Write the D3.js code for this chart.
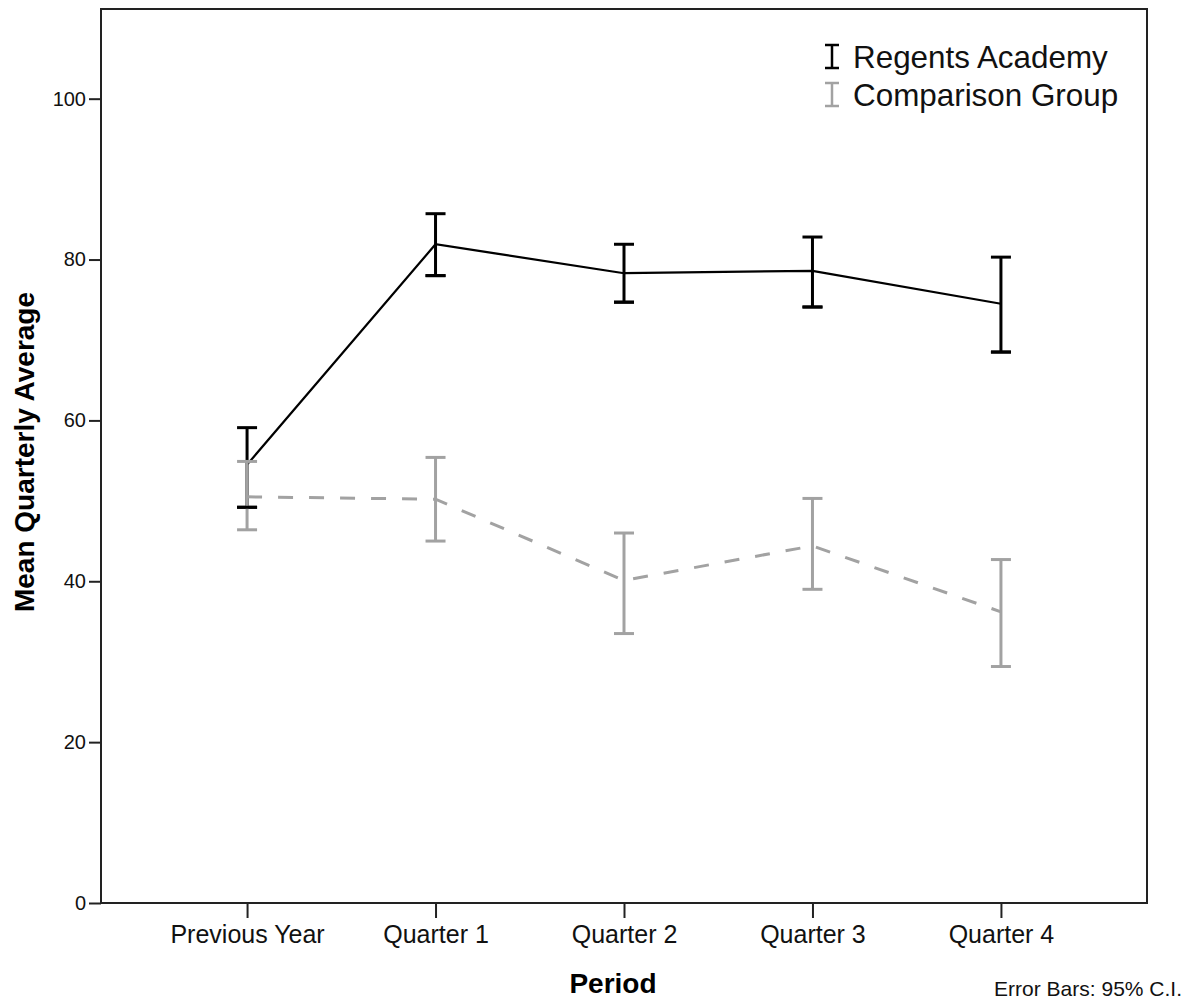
<!DOCTYPE html>
<html>
<head>
<meta charset="utf-8">
<script src="https://cdn.jsdelivr.net/npm/d3@7"></script>
<style>
  html, body { margin: 0; padding: 0; background: #fff; }
  svg { display: block; }
  text { font-family: "Liberation Sans", Arial, sans-serif; }
</style>
</head>
<body>
<svg id="chart" width="1188" height="1002"></svg>
<script>
const categories = ["Previous Year", "Quarter 1", "Quarter 2", "Quarter 3", "Quarter 4"];
const regentsMean  = [54.5, 81.9, 78.3, 78.6, 74.5];
const regentsLower = [49.2, 78.0, 74.7, 74.1, 68.5];
const regentsUpper = [59.1, 85.7, 81.9, 82.8, 80.3];
const compMean  = [50.5, 50.2, 40.1, 44.4, 36.2];
const compLower = [46.4, 45.0, 33.5, 39.0, 29.4];
const compUpper = [54.9, 55.4, 46.0, 50.3, 42.7];
const yTicks = [0, 20, 40, 60, 80, 100];
const seriesNames = ["Regents Academy", "Comparison Group"];

const svg = d3.select("#chart");
const plot = { left: 101, right: 1147, top: 9, bottom: 903 };

const x = d3.scalePoint().domain(categories).range([plot.left, plot.right]).padding(0.775);
const y = d3.scaleLinear().domain([0, 111.15]).range([plot.bottom, plot.top]);

const BLACK = "#000000";
const GRAY = "#a2a2a2";

// Y axis
const yAxis = svg.append("g")
  .attr("transform", `translate(${plot.left},0)`)
  .call(d3.axisLeft(y).tickValues(yTicks).tickSize(12).tickPadding(3).tickFormat(d3.format("d")));
yAxis.select(".domain").remove();
yAxis.selectAll(".tick line").attr("stroke", "#222").attr("stroke-width", 2);
yAxis.selectAll(".tick text").attr("font-size", 20).attr("fill", "#111")
  .attr("font-family", "'Liberation Sans', Arial, sans-serif");

// X axis
const xAxis = svg.append("g")
  .attr("transform", `translate(0,${plot.bottom})`)
  .call(d3.axisBottom(x).tickSize(15).tickPadding(7));
xAxis.select(".domain").remove();
xAxis.selectAll(".tick line").attr("stroke", "#222").attr("stroke-width", 2);
xAxis.selectAll(".tick text").attr("font-size", 25).attr("fill", "#111")
  .attr("font-family", "'Liberation Sans', Arial, sans-serif");

// Frame
svg.append("rect")
  .attr("x", plot.left).attr("y", plot.top)
  .attr("width", plot.right - plot.left).attr("height", plot.bottom - plot.top)
  .attr("fill", "none").attr("stroke", "#222").attr("stroke-width", 2);

function makeData(means, lows, highs) {
  return categories.map((c, i) => ({ c, m: means[i], lo: lows[i], hi: highs[i] }));
}
const regData = makeData(regentsMean, regentsLower, regentsUpper);
const cmpData = makeData(compMean, compLower, compUpper);

const line = d3.line().x(d => x(d.c)).y(d => y(d.m));
const capW = 10;

function drawLine(data, color, dash, width) {
  svg.append("path").datum(data)
    .attr("d", line)
    .attr("fill", "none")
    .attr("stroke", color)
    .attr("stroke-width", width)
    .attr("stroke-dasharray", dash);
}
function drawBars(data, color, cls) {
  const g = svg.append("g").attr("class", cls);
  g.selectAll("line.v").data(data).enter().append("line")
    .attr("x1", d => x(d.c)).attr("x2", d => x(d.c))
    .attr("y1", d => y(d.lo)).attr("y2", d => y(d.hi))
    .attr("stroke", color).attr("stroke-width", 3);
}
function drawCaps(data, color) {
  const g = svg.append("g");
  ["lo", "hi"].forEach(k => {
    g.selectAll("line." + k).data(data).enter().append("line")
      .attr("x1", d => x(d.c) - capW).attr("x2", d => x(d.c) + capW)
      .attr("y1", d => y(d[k])).attr("y2", d => y(d[k]))
      .attr("stroke", color).attr("stroke-width", 3);
  });
}

drawLine(regData, BLACK, null, 2.2);
drawBars(regData, BLACK, "reg");
drawCaps(regData, BLACK);
drawLine(cmpData, GRAY, "15,16", 3);
drawBars(cmpData, GRAY, "cmp");
drawCaps(cmpData, GRAY);
// Regents lower caps drawn on top
svg.append("g").selectAll("line").data(regData).enter().append("line")
  .attr("x1", d => x(d.c) - capW).attr("x2", d => x(d.c) + capW)
  .attr("y1", d => y(d.lo)).attr("y2", d => y(d.lo))
  .attr("stroke", BLACK).attr("stroke-width", 3);

// Legend
const legend = svg.append("g");
const legColors = [BLACK, GRAY];
seriesNames.forEach((name, i) => {
  const baseY = 68 + i * 38;
  const cx = 832;
  const top = baseY - 23, bot = baseY;
  const lg = legend.append("g");
  lg.append("line").attr("x1", cx).attr("x2", cx).attr("y1", top).attr("y2", bot)
    .attr("stroke", legColors[i]).attr("stroke-width", 2.5);
  [top, bot].forEach(yy => lg.append("line")
    .attr("x1", cx - 7).attr("x2", cx + 7).attr("y1", yy).attr("y2", yy)
    .attr("stroke", legColors[i]).attr("stroke-width", 2.5));
  lg.append("text").attr("x", 853).attr("y", baseY)
    .attr("font-size", 31.4).attr("fill", "#111").text(name);
});

// Axis titles
svg.append("text")
  .attr("x", 613).attr("y", 993)
  .attr("text-anchor", "middle")
  .attr("font-size", 28).attr("font-weight", "bold").attr("fill", "#000")
  .text("Period");

svg.append("text")
  .attr("transform", "translate(34,452) rotate(-90)")
  .attr("text-anchor", "middle")
  .attr("font-size", 28).attr("font-weight", "bold").attr("fill", "#000")
  .text("Mean Quarterly Average");

svg.append("text")
  .attr("x", 1182).attr("y", 996)
  .attr("text-anchor", "end")
  .attr("font-size", 21).attr("fill", "#111")
  .text("Error Bars: 95% C.I.");
</script>
</body>
</html>
